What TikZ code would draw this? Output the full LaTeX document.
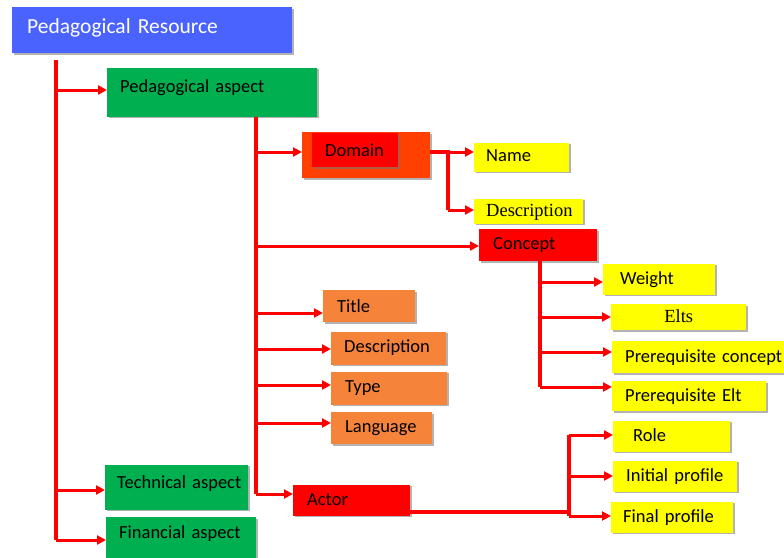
\documentclass[tikz,border=0pt]{standalone}
\usepackage{fontspec}
\setmainfont{Carlito}
\newfontfamily\serifc{Liberation Serif}
\usetikzlibrary{arrows.meta,shadows}
\definecolor{cblue}{HTML}{4A63FF}
\definecolor{cgreen}{HTML}{00B050}
\definecolor{corange}{HTML}{F5843A}
\definecolor{cdom}{HTML}{FF4000}
\definecolor{cred}{HTML}{FF0000}
\definecolor{cyellow}{HTML}{FFFF00}
\definecolor{cline}{HTML}{FF0000}
\begin{document}
\begin{tikzpicture}[x=1pt,y=-1pt,
  box/.style={rectangle, anchor=west, align=left, inner ysep=0pt,
    font=\fontsize{18.5}{20}\selectfont,
    drop shadow={shadow xshift=1.6pt, shadow yshift=-1.6pt, fill=black!55, opacity=0.55}},
  gbox/.style={box, fill=cgreen},
  obox/.style={box, fill=corange},
  rbox/.style={box, fill=cred},
  ybox/.style={box, fill=cyellow, text depth=2pt},
  serifbox/.style={font=\serifc\fontsize{18.5}{20}\selectfont},
  trunk/.style={draw=cline, line width=3.5pt},
  arr/.style={draw=cline, line width=3pt, -{Triangle[length=9pt,width=9pt]}}]
\useasboundingbox[fill=white] (0,0) rectangle (784,557);

% nodes
\node[box, fill=cblue, text=white, font=\fontsize{21.5}{23}\selectfont,
  minimum height=46, inner xsep=15, text width=250, text depth=8pt] (res) at (12,30) {\mbox{Pedagogical Resource}};
\node[gbox, minimum height=49, inner xsep=13, text width=184, text depth=12pt] (ped) at (107,92) {\mbox{Pedagogical aspect}};
\node[box, fill=cdom, minimum height=46, minimum width=128, inner sep=0pt] (dom) at (302,155) {};
\node[rbox, drop shadow={opacity=0}, minimum height=34, inner xsep=13, text width=60] (domin) at (312,150) {Domain};
\node[ybox, minimum height=29, inner xsep=12, text width=71] (name) at (474,157) {Name};
\node[ybox, serifbox, minimum height=25, inner xsep=12, text width=85] (ddesc) at (474,211) {Description};
\node[rbox, minimum height=32, inner xsep=14, text width=90] (con) at (479,245) {Concept};
\node[ybox, minimum height=31, inner xsep=17, text width=78] (wei) at (603,279) {Weight};
\node[ybox, serifbox, minimum height=26, inner xsep=10, text width=115, align=center] (elts) at (611,317) {Elts};
\node[ybox, minimum height=32, inner xsep=13, text width=146] (prc) at (612,357) {\mbox{Prerequisite concept}};
\node[ybox, minimum height=30, inner xsep=13, text width=128] (pre) at (612,396) {\mbox{Prerequisite Elt}};
\node[obox, minimum height=32, inner xsep=14, text width=64] (tit) at (323,306) {Title};
\node[obox, minimum height=33, inner xsep=13, text width=89] (desc) at (331,348) {Description};
\node[obox, minimum height=33, inner xsep=14, text width=88] (typ) at (331,388) {Type};
\node[obox, minimum height=32, inner xsep=14, text width=73] (lan) at (331,428) {Language};
\node[gbox, minimum height=45, inner xsep=12, text width=119, text depth=10pt] (tec) at (105,487) {\mbox{Technical aspect}};
\node[gbox, minimum height=46, inner xsep=13, text width=124, text depth=16pt] (fin) at (106,540) {\mbox{Financial aspect}};
\node[rbox, minimum height=31, inner xsep=14, text width=89, text height=11pt] (act) at (293,500) {Actor};
\node[ybox, minimum height=31, inner xsep=20, text width=77] (rol) at (613,436) {Role};
\node[ybox, minimum height=31, inner xsep=13, text width=98] (ini) at (613,476) {\mbox{Initial profile}};
\node[ybox, minimum height=31, inner xsep=12, text width=98] (fpr) at (611,517) {\mbox{Final profile}};

% junctions
\coordinate (m0) at (56,60);
\coordinate (m1) at (56,90);
\coordinate (m2) at (56,490);
\coordinate (m3) at (56,540);
\coordinate (p0) at (256,117);
\coordinate (p1) at (256,152);
\coordinate (p2) at (256,246);
\coordinate (p3) at (256,313);
\coordinate (p4) at (256,349);
\coordinate (p5) at (256,385);
\coordinate (p6) at (256,423);
\coordinate (p7) at (256,494);
\coordinate (d0) at (448,152);
\coordinate (d1) at (448,210);
\coordinate (c0) at (540,261);
\coordinate (c1) at (540,282);
\coordinate (c2) at (540,317);
\coordinate (c3) at (540,352);
\coordinate (c4) at (540,387);
\coordinate (a0) at (569,512);
\coordinate (a1) at (569,435);
\coordinate (a2) at (569,476);
\coordinate (a3) at (569,516);

% connectors
\draw[trunk] (m0) -- (m3);
\draw[arr] (m1) -- (m1 -| ped.west);
\draw[arr] (m2) -- (m2 -| tec.west);
\draw[arr] (m3) -- (m3 -| fin.west);

\draw[trunk] (p0) -- (p7);
\draw[arr] (p1) -- (p1 -| dom.west);
\draw[arr] (p2) -- (p2 -| con.west);
\draw[arr] (p3) -- (p3 -| tit.west);
\draw[arr] (p4) -- (p4 -| desc.west);
\draw[arr] (p5) -- (p5 -| typ.west);
\draw[arr] (p6) -- (p6 -| lan.west);
\draw[arr] (p7) -- (p7 -| act.west);

\draw[trunk] (dom.east |- d0) -- (d0) -- (d1);
\draw[arr] (d0) -- (d0 -| name.west);
\draw[arr] (d1) -- (d1 -| ddesc.west);

\draw[trunk] (c0) -- (c4);
\draw[arr] (c1) -- (c1 -| wei.west);
\draw[arr] (c2) -- (c2 -| elts.west);
\draw[arr] (c3) -- (c3 -| prc.west);
\draw[arr] (c4) -- (c4 -| pre.west);

\draw[trunk] (act.east |- a0) -- (a0);
\draw[trunk] (a1) -- (a3);
\draw[arr] (a1) -- (a1 -| rol.west);
\draw[arr] (a2) -- (a2 -| ini.west);
\draw[arr] (a3) -- (a3 -| fpr.west);
\end{tikzpicture}
\end{document}
